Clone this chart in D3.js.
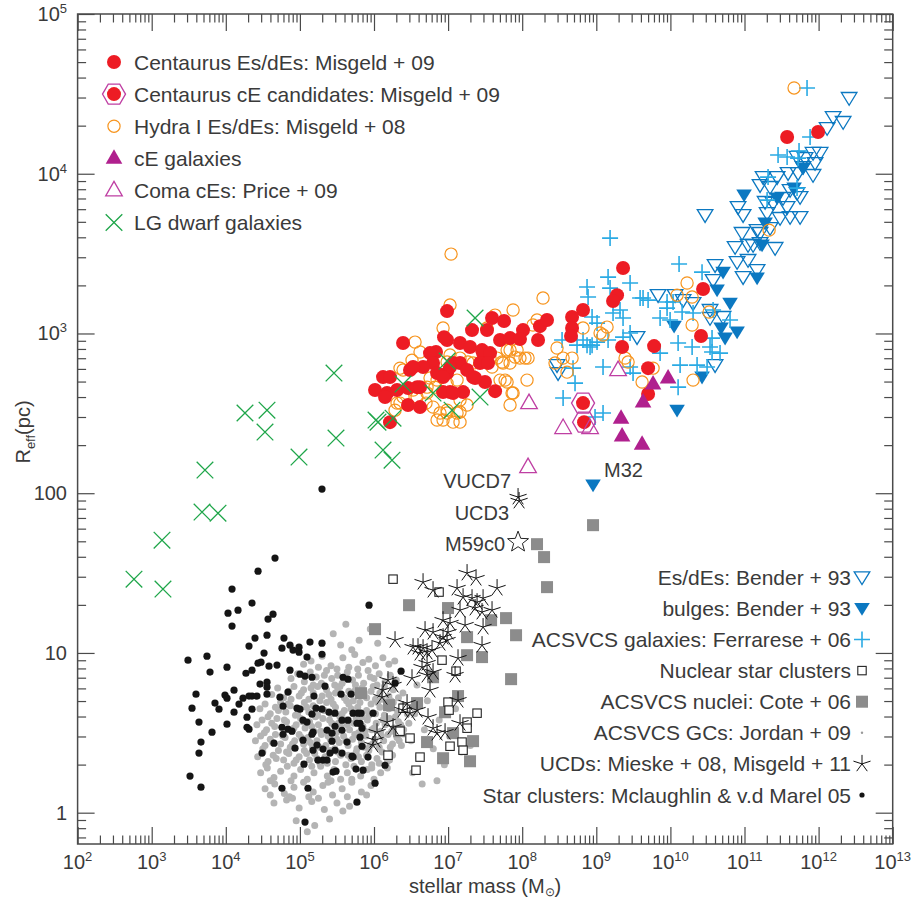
<!DOCTYPE html>
<html>
<head>
<meta charset="utf-8">
<script src="https://cdn.jsdelivr.net/npm/d3@7"></script>
<style>
  body { margin: 0; background: #fff; }
  text { font-family: "Liberation Sans", Arial, sans-serif; fill: #3a3a3a; }
</style>
</head>
<body>
<svg id="chart" width="911" height="902"></svg>
<script>
// all points are [log10 stellar mass (Msun), log10 Reff (pc)]
const centaurusEs = [
  [11.575,4.230],[11.993,4.261],[9.361,3.410],[9.280,3.240],[9.226,3.203],[8.821,3.147],[8.673,3.103],
  [8.673,3.034],[8.659,2.984],[9.348,2.915],[9.780,2.921],[10.441,3.278],[10.413,2.984],[9.699,2.783],
  [9.699,2.621],[6.986,3.140],[7.593,3.097],[7.755,3.078],[7.323,3.021],[7.525,3.021],[8.011,3.021],
  [8.240,3.046],[8.335,3.084],[8.214,2.959],[7.701,2.959],[7.836,2.971],[7.970,2.965],[6.986,2.959],
  [7.161,2.940],[7.296,2.915],[7.472,2.877],[7.431,2.815],[7.067,2.815],[7.161,2.815],[6.986,2.752],
  [7.256,2.771],[7.337,2.727],[7.498,2.696],[7.634,2.639],[7.026,2.633],[7.202,2.633],[6.392,2.940],
  [6.945,2.977],[6.837,2.884],[6.756,2.877],[7.458,2.896],[7.566,2.877],[7.539,2.815],[7.026,2.790],
  [6.797,2.815],[6.486,2.771],[6.662,2.790],[6.851,2.752],[6.932,2.727],[6.122,2.727],[6.216,2.727],
  [6.014,2.646],[6.176,2.627],[6.311,2.646],[6.459,2.658],[6.581,2.664],[6.932,2.633],[7.067,2.627],
  [7.364,2.721],[6.459,2.552],[6.621,2.539],[6.216,2.445],[6.527,2.790],[6.149,2.602],[6.621,2.664]
];
const centaurusCE = [[8.821,2.564],[8.835,2.445]];
const hydraEs = [
  [11.669,4.537],[7.040,3.497],[11.332,3.647],[8.281,3.222],[7.877,3.147],[7.026,3.178],[10.225,3.316],
  [10.090,3.240],[10.293,3.228],[10.522,3.134],[10.293,3.053],[10.306,2.708],[9.618,2.696],[9.766,2.783],
  [9.145,3.040],[9.051,3.003],[9.091,2.990],[8.821,3.034],[8.470,2.909],[8.443,2.815],[8.552,2.846],
  [8.605,2.758],[8.673,2.846],[9.388,2.846],[9.429,2.821],[8.065,2.708],[7.877,2.627],[7.836,2.552],
  [7.661,2.846],[7.742,2.815],[7.970,2.846],[8.079,2.846],[7.836,2.896],[7.161,2.508],[6.986,2.520],
  [7.701,2.708],[7.796,2.696],[7.337,2.815],[7.472,2.821],[7.634,3.115],[7.525,3.034],[6.932,3.034],
  [6.554,2.946],[6.621,2.884],[6.513,2.833],[6.351,2.783],[7.026,2.865],[6.986,2.821],[7.161,2.846],
  [7.269,2.821],[7.566,2.846],[7.796,2.896],[7.931,2.896],[7.904,2.852],[8.038,2.846],[7.728,2.821],
  [7.593,2.790],[7.836,2.815],[6.756,2.721],[6.851,2.708],[6.716,2.664],[6.986,2.689],[7.121,2.708],
  [7.769,2.708],[7.863,2.627],[7.161,2.583],[7.256,2.552],[6.311,2.564],[6.392,2.602],[6.797,2.539],
  [6.891,2.502],[6.986,2.502],[6.851,2.458],[6.932,2.458],[7.121,2.502],[7.161,2.445],[6.527,2.646],
  [6.581,2.602],[8.200,3.084],[8.146,3.053],[6.392,2.771],[6.824,2.664],[6.716,2.627],[6.351,2.564],
  [7.067,2.445],[6.702,2.564],[6.284,2.520]
];
const cEGalaxies = [[9.334,2.470],[9.348,2.358],[9.618,2.307],[9.631,2.571],[9.766,2.683],[9.969,2.721]];
const comaCEs = [[8.092,2.564],[8.552,2.408],[8.916,2.408],[9.294,2.771],[8.079,2.163]];
const lgDwarfs = [
  [2.761,1.462],[3.139,1.706],[3.152,1.400],[3.679,1.882],[3.895,1.875],[3.719,2.145],[4.259,2.502],
  [4.556,2.520],[4.529,2.383],[4.988,2.226],[5.460,2.752],[5.487,2.345],[6.027,2.458],[6.054,2.445],
  [6.122,2.270],[6.243,2.207],[6.257,2.470],[6.392,2.683],[6.797,2.627],[6.986,2.827],[7.053,2.520],
  [7.364,3.097],[7.431,2.602]
];
const benderEs = [
  [12.412,4.474],[12.196,4.355],[12.331,4.324],[12.115,4.286],[11.925,4.130],[12.020,4.130],[11.817,4.098],
  [11.709,4.105],[11.952,4.067],[11.790,4.042],[11.723,4.004],[11.925,3.992],[11.588,4.004],[11.440,3.979],
  [11.251,3.979],[11.210,3.929],[11.345,3.917],[11.615,3.898],[11.709,3.879],[11.750,3.854],[11.520,3.848],
  [11.386,3.817],[11.278,3.823],[11.575,3.791],[11.750,3.729],[11.615,3.729],[11.480,3.723],[11.305,3.754],
  [10.981,3.741],[10.913,3.791],[10.468,3.741],[11.345,3.660],[11.170,3.647],[10.967,3.629],[10.873,3.541],
  [11.048,3.554],[11.210,3.566],[11.413,3.535],[10.603,3.428],[10.900,3.447],[11.048,3.460],[11.210,3.629],
  [11.116,3.554],[10.981,3.353],[11.170,3.397],[10.576,3.334],[9.834,3.240],[10.063,3.240],[10.171,3.209],
  [10.306,3.190],[10.535,3.147],[10.711,3.103],[10.535,3.097],[10.603,2.802],[9.550,2.977],[8.470,2.802],
  [8.484,2.752]
];
const benderBulges = [
  [10.994,3.867],[11.440,3.848],[11.669,3.910],[11.790,4.036],[11.278,3.691],[11.237,3.554],[10.630,3.272],
  [10.805,3.190],[10.684,3.034],[10.900,3.009],[10.738,2.971],[11.170,3.347],[10.711,3.384],[10.050,3.046],
  [10.427,2.727],[10.090,2.520],[8.956,2.051]
];
const acsGalaxies = [
  [11.844,4.537],[11.885,4.230],[11.453,4.117],[11.575,4.105],[11.736,4.142],[11.723,4.098],[11.318,3.979],
  [11.305,3.835],[11.709,3.910],[9.186,3.597],[10.117,3.435],[10.427,3.384],[9.159,3.353],[9.456,3.316],
  [8.875,3.291],[8.889,3.228],[9.186,3.284],[9.591,3.222],[9.699,3.209],[9.955,3.197],[10.036,3.197],
  [8.943,3.103],[9.010,3.065],[9.226,3.128],[9.320,3.147],[9.361,3.097],[9.861,3.097],[9.996,3.084],
  [10.158,3.134],[10.306,3.128],[10.576,3.147],[10.805,3.084],[9.456,3.003],[9.361,2.977],[8.538,2.959],
  [8.740,2.927],[8.875,2.927],[8.943,2.927],[9.010,2.946],[9.159,2.959],[10.104,2.940],[10.293,2.915],
  [10.562,2.884],[9.861,2.877],[10.131,2.802],[10.360,2.802],[10.495,2.790],[9.091,2.790],[9.496,2.752],
  [9.456,2.790],[8.686,2.783],[8.713,2.689],[10.104,2.664],[8.552,2.596],[9.091,2.502],[8.983,2.477],
  [10.670,2.877],[10.535,2.915],[9.631,3.222],[9.955,3.159],[10.562,2.971],[8.916,2.915],[8.821,2.959]
];
const nuclearClusters = [
  [6.257,1.462],[6.878,1.381],[6.918,0.955],[7.107,0.886],[6.999,0.692],[7.013,0.642],[7.391,0.623],
  [6.392,0.654],[7.256,0.567],[7.256,0.529],[6.486,0.467],[7.026,0.416],[7.188,0.442],[7.202,0.391],
  [6.189,0.360],[6.621,0.348],[6.567,0.266],[6.351,0.510]
];
const acsNuclei = [
  [8.956,1.800],[8.200,1.681],[8.295,1.600],[8.335,1.412],[7.917,1.111],[7.782,1.218],[7.580,1.205],
  [7.458,0.974],[7.256,0.986],[7.256,1.099],[6.999,1.281],[7.850,0.836],[7.134,0.730],[7.337,0.448],
  [7.296,0.322],[6.932,0.341],[7.067,0.498],[6.473,1.299],[6.014,1.149],[5.825,0.748],[6.203,0.673],
  [6.959,0.629],[6.338,0.510],[6.716,0.442],[6.581,0.686],[6.797,0.848]
];
const ucds = [
  [7.256,1.500],[7.377,1.468],[6.662,1.443],[6.797,1.393],[7.121,1.406],[7.661,1.406],[7.202,1.349],
  [7.323,1.343],[7.391,1.318],[7.472,1.343],[7.161,1.268],[7.364,1.281],[7.458,1.256],[7.593,1.268],
  [7.229,1.174],[7.026,1.187],[7.472,1.162],[6.689,1.143],[6.797,1.130],[6.932,1.099],[6.999,1.130],
  [6.284,1.080],[6.594,1.036],[6.662,1.030],[6.716,1.005],[6.621,0.999],[6.783,1.018],[6.986,1.080],
  [6.891,1.061],[7.458,1.049],[7.134,0.967],[6.716,0.936],[6.648,0.911],[6.797,0.880],[6.716,0.861],
  [6.513,0.842],[7.094,0.861],[6.189,0.830],[6.257,0.799],[6.122,0.767],[6.108,0.723],[6.756,0.767],
  [7.134,0.704],[6.581,0.642],[6.486,0.623],[6.392,0.642],[6.729,0.598],[7.161,0.560],[6.176,0.567],
  [6.257,0.535],[6.797,0.529],[6.959,0.504],[6.851,0.498],[6.041,0.504],[6.014,0.454],[5.987,0.423],
  [6.527,1.036],[6.932,1.205],[6.446,0.686]
];
const namedUCDs = [["VUCD7",7.944,1.976],["UCD3",7.958,1.951]];
const m59c0 = [7.944,1.694];
const m32 = [8.956,2.051];
const starClusters = [
  [4.664,1.594],[4.435,1.512],[4.084,1.400],[4.354,1.312],[4.030,1.249],[4.165,1.268],[4.084,1.168],
  [4.570,1.212],[4.637,1.243],[4.394,1.093],[4.556,1.111],[4.313,1.043],[4.785,1.093],[4.758,1.030],
  [4.866,1.049],[4.907,1.018],[4.988,1.036],[4.988,1.005],[5.136,1.068],[5.298,1.061],[5.298,0.992],
  [5.096,0.974],[3.490,0.955],[3.746,0.980],[4.516,0.999],[3.787,0.880],[4.016,0.911],[4.272,0.873],
  [4.354,0.892],[4.435,0.936],[4.475,0.942],[4.583,0.917],[4.691,0.924],[4.866,0.892],[5.001,0.867],
  [5.069,0.855],[5.163,0.848],[4.462,0.805],[4.556,0.817],[4.556,0.786],[4.556,0.742],[4.111,0.767],
  [3.989,0.736],[4.016,0.717],[4.232,0.717],[4.313,0.730],[4.354,0.730],[4.421,0.730],[3.598,0.742],
  [3.544,0.654],[3.854,0.686],[3.908,0.648],[4.178,0.680],[4.111,0.629],[4.354,0.648],[4.286,0.598],
  [4.286,0.535],[4.313,0.523],[4.016,0.554],[3.814,0.504],[3.638,0.567],[3.665,0.442],[3.638,0.373],
  [3.517,0.229],[3.665,0.160],[4.839,0.755],[4.731,0.723],[4.772,0.667],[5.339,0.792],[5.190,0.730],
  [5.163,0.617],[4.961,0.654],[5.001,0.648],[5.042,0.579],[5.096,0.567],[5.217,0.654],[5.298,0.648],
  [5.393,0.629],[5.474,0.623],[4.758,0.535],[4.772,0.491],[4.839,0.523],[4.893,0.510],[5.177,0.504],
  [5.163,0.491],[5.366,0.516],[5.433,0.498],[5.568,0.516],[5.474,0.541],[5.568,0.579],[5.649,0.579],
  [5.717,0.623],[5.825,0.623],[5.582,0.848],[5.649,0.836],[5.555,0.742],[5.690,0.742],[5.811,0.560],
  [5.838,0.529],[4.650,0.435],[4.934,0.404],[5.042,0.454],[5.231,0.423],[5.177,0.391],[5.312,0.398],
  [5.433,0.448],[5.474,0.391],[5.406,0.373],[5.312,0.329],[5.244,0.329],[5.366,0.329],[5.636,0.442],
  [5.703,0.354],[5.568,0.373],[5.838,0.416],[5.919,0.348],[5.852,0.266],[5.055,0.304],[4.489,0.373],
  [5.447,0.254],[5.487,0.260],[5.757,0.273],[4.758,0.153],[5.109,0.153],[5.770,0.066],[5.069,-0.059],
  [6.014,0.185],[5.933,1.299],[5.987,0.623],[5.298,2.026],[6.365,0.886],[6.284,0.811],[5.784,0.623],
  [5.770,0.560],[5.811,0.473],[5.717,0.348],[6.149,0.297]
];
const gcText = `
5.45,1.12 5.62,1.18 5.80,1.08 5.95,1.15 6.05,1.06 5.70,1.02 5.55,1.05
5.15,0.95 5.30,0.98 5.42,0.92 5.58,0.97 5.66,0.91 5.74,0.99 5.85,0.94 5.93,0.96 6.02,0.92 6.12,0.97 6.20,0.93 5.25,0.91 5.50,0.90 5.78,0.90 6.28,0.95 5.05,0.93
4.88,0.84 4.97,0.87 5.06,0.82 5.14,0.88 5.22,0.85 5.29,0.81 5.36,0.89 5.43,0.84 5.51,0.86 5.57,0.81 5.64,0.88 5.71,0.83 5.79,0.86 5.86,0.81 5.92,0.89 6.00,0.84 6.07,0.87 6.15,0.82 6.22,0.86 6.30,0.83 5.18,0.80 5.47,0.80 5.75,0.80 6.04,0.80 5.33,0.86 5.60,0.85 5.95,0.85
4.62,0.74 4.70,0.78 4.78,0.72 4.85,0.76 4.92,0.79 4.99,0.73 5.05,0.77 5.12,0.71 5.18,0.75 5.24,0.79 5.30,0.73 5.36,0.77 5.42,0.71 5.48,0.75 5.54,0.79 5.60,0.72 5.66,0.76 5.72,0.70 5.78,0.74 5.84,0.78 5.90,0.72 5.96,0.76 6.02,0.71 6.08,0.75 6.14,0.79 6.20,0.73 6.26,0.77 6.33,0.72 6.39,0.75 4.88,0.71 5.02,0.75 5.15,0.78 5.27,0.70 5.39,0.74 5.51,0.78 5.63,0.70 5.75,0.77 5.87,0.75 5.99,0.79 6.11,0.71 6.23,0.70
4.46,0.65 4.53,0.68 4.60,0.62 4.67,0.66 4.74,0.69 4.81,0.63 4.87,0.67 4.94,0.61 5.00,0.65 5.06,0.69 5.12,0.63 5.18,0.67 5.24,0.61 5.30,0.65 5.36,0.69 5.42,0.62 5.48,0.66 5.54,0.60 5.60,0.64 5.66,0.68 5.72,0.62 5.78,0.66 5.84,0.60 5.90,0.64 5.96,0.68 6.02,0.62 6.08,0.66 6.14,0.61 6.20,0.65 6.26,0.69 6.32,0.63 6.38,0.67 6.45,0.62 4.57,0.60 4.71,0.64 4.84,0.68 4.97,0.62 5.09,0.66 5.21,0.60 5.33,0.64 5.45,0.68 5.57,0.62 5.69,0.65 5.81,0.69 5.93,0.61 6.05,0.69 6.17,0.67 6.29,0.60
4.42,0.55 4.49,0.58 4.55,0.52 4.62,0.56 4.69,0.59 4.76,0.53 4.82,0.57 4.89,0.51 4.95,0.55 5.01,0.59 5.07,0.53 5.13,0.57 5.19,0.51 5.25,0.55 5.31,0.59 5.37,0.52 5.43,0.56 5.49,0.50 5.55,0.54 5.61,0.58 5.67,0.52 5.73,0.56 5.79,0.50 5.85,0.54 5.91,0.58 5.97,0.52 6.03,0.56 6.09,0.51 6.15,0.55 6.21,0.59 6.27,0.53 6.33,0.57 6.40,0.52 6.47,0.56 4.52,0.50 4.66,0.54 4.79,0.58 4.92,0.53 5.04,0.57 5.16,0.54 5.28,0.51 5.40,0.58 5.52,0.56 5.64,0.55 5.76,0.59 5.88,0.51 6.00,0.53 6.12,0.58 6.24,0.51 6.36,0.55
4.40,0.45 4.47,0.48 4.53,0.42 4.60,0.46 4.67,0.49 4.74,0.43 4.80,0.47 4.87,0.41 4.93,0.45 4.99,0.49 5.05,0.43 5.11,0.47 5.17,0.41 5.23,0.45 5.29,0.49 5.35,0.42 5.41,0.46 5.47,0.40 5.53,0.44 5.59,0.48 5.65,0.42 5.71,0.46 5.77,0.40 5.83,0.44 5.89,0.48 5.95,0.42 6.01,0.46 6.07,0.41 6.13,0.45 6.19,0.49 6.25,0.43 6.31,0.47 6.37,0.42 4.50,0.40 4.63,0.44 4.77,0.48 4.90,0.43 5.02,0.47 5.14,0.44 5.26,0.41 5.38,0.48 5.50,0.46 5.62,0.45 5.74,0.49 5.86,0.41 5.98,0.43 6.10,0.48 6.22,0.41 6.34,0.45
4.43,0.35 4.50,0.38 4.57,0.32 4.64,0.36 4.71,0.39 4.78,0.33 4.85,0.37 4.92,0.31 4.99,0.35 5.06,0.39 5.13,0.33 5.20,0.37 5.27,0.31 5.34,0.35 5.41,0.39 5.48,0.32 5.55,0.36 5.62,0.30 5.69,0.34 5.76,0.38 5.83,0.32 5.90,0.36 5.97,0.30 6.04,0.34 6.11,0.38 6.18,0.32 6.25,0.36 4.54,0.30 4.68,0.34 4.82,0.38 4.95,0.33 5.09,0.37 5.23,0.34 5.37,0.31 5.51,0.38 5.65,0.36 5.79,0.35 5.93,0.39 6.07,0.31 6.21,0.33
4.47,0.25 4.56,0.28 4.65,0.22 4.74,0.26 4.83,0.29 4.92,0.23 5.01,0.27 5.10,0.21 5.19,0.25 5.28,0.29 5.37,0.23 5.46,0.27 5.55,0.21 5.64,0.25 5.73,0.29 5.82,0.23 5.91,0.27 6.00,0.21 6.09,0.25 6.18,0.28 4.60,0.20 4.88,0.20 5.16,0.29 5.42,0.20 5.70,0.21 5.97,0.28
4.53,0.15 4.66,0.18 4.79,0.12 4.92,0.16 5.05,0.19 5.18,0.13 5.31,0.17 5.44,0.11 5.57,0.15 5.70,0.19 5.83,0.13 5.96,0.17 4.60,0.11 4.86,0.10 5.12,0.10 5.38,0.19 5.64,0.10 5.90,0.11
4.65,0.06 4.82,0.08 4.99,0.03 5.16,0.07 5.33,0.02 5.50,0.06 5.67,0.04 4.90,0.09 5.25,0.09 5.58,0.01
4.95,-0.05 5.20,-0.08 5.40,-0.04 5.10,-0.12
6.50,0.45 6.55,0.62 6.60,0.35 6.68,0.52 6.72,0.70 6.80,0.40 6.88,0.58 6.95,0.30 7.02,0.48 7.10,0.65 7.18,0.38 7.25,0.55 6.58,0.80 6.75,0.88 6.52,0.25 6.65,0.18 7.30,0.42 6.85,0.20`;
const acsGCs = gcText.trim().split(/\s+/).map(s => s.split(",").map(Number));

const xTickExps = [2,3,4,5,6,7,8,9,10,11,12,13];
const yTickValues = [1,10,100,1000,10000,100000];
const yTickLabels = [["1",""],["10",""],["100",""],["10","3"],["10","4"],["10","5"]];

const leftLegend = [
  ["red","Centaurus Es/dEs: Misgeld + 09"],
  ["hex","Centaurus cE candidates: Misgeld + 09"],
  ["orange","Hydra I Es/dEs: Misgeld + 08"],
  ["cE","cE galaxies"],
  ["coma","Coma cEs: Price + 09"],
  ["lg","LG dwarf galaxies"]
];
const rightLegend = [
  ["bender","Es/dEs: Bender + 93"],
  ["bulge","bulges: Bender + 93"],
  ["acs","ACSVCS galaxies: Ferrarese + 06"],
  ["nsc","Nuclear star clusters"],
  ["nuc","ACSVCS nuclei: Cote + 06"],
  ["gcLeg","ACSVCS GCs: Jordan + 09"],
  ["ucd","UCDs: Mieske + 08, Misgeld + 11"],
  ["scLeg","Star clusters: Mclaughlin & v.d Marel 05"]
];

const RED = "#ed1c24", MAG = "#b0208e", MAG_L = "#bf3fa3", ORANGE = "#f7941d",
      GREEN = "#1fa64a", BLUE = "#0b78c1", LBLUE = "#2aaae4", GREY = "#8c8c8c";

const plot = {left: 77.6, right: 892.7, top: 14, bottom: 844};
const svg = d3.select("#chart");

const x = d3.scaleLog().domain([1e2, 1e13]).range([plot.left, plot.right]);
const y = d3.scaleLog().domain([Math.pow(10, -0.196), 1e5]).range([plot.bottom, plot.top]);
const px = d => x(Math.pow(10, d[0]));
const py = d => y(Math.pow(10, d[1]));

// marker shapes
const upTri = "M0,-9L8.3,5.5L-8.3,5.5Z";
const downTri = "M-7.8,-5.5L7.8,-5.5L0,7.3Z";
const hexPath = d3.range(6).map(i => {
  const a = i * Math.PI / 3;
  return (i ? "L" : "M") + (11.5 * Math.cos(a)).toFixed(2) + "," + (11.5 * Math.sin(a)).toFixed(2);
}).join("") + "Z";
const asterisk = d3.range(5).map(i => {
  const a = -Math.PI / 2 + i * 2 * Math.PI / 5;
  return "M0,0L" + (9 * Math.cos(a)).toFixed(2) + "," + (9 * Math.sin(a)).toFixed(2);
}).join("");
const starPath = d3.range(10).map(i => {
  const a = -Math.PI / 2 + i * Math.PI / 5, r = i % 2 ? 4.6 : 11;
  return (i ? "L" : "M") + (r * Math.cos(a)).toFixed(2) + "," + (r * Math.sin(a)).toFixed(2);
}).join("") + "Z";

function addMarker(s, type) {
  switch (type) {
    case "red":
      s.append("circle").attr("r", 7).attr("fill", RED); break;
    case "hex":
      s.append("path").attr("d", hexPath).attr("fill", "none").attr("stroke", MAG_L).attr("stroke-width", 1.3);
      s.append("circle").attr("r", 7).attr("fill", RED); break;
    case "orange":
      s.append("circle").attr("r", 6.1).attr("fill", "none").attr("stroke", ORANGE).attr("stroke-width", 1.2); break;
    case "cE":
      s.append("path").attr("d", upTri).attr("fill", MAG); break;
    case "coma":
      s.append("path").attr("d", upTri).attr("fill", "none").attr("stroke", MAG_L).attr("stroke-width", 1.3); break;
    case "lg":
      s.append("path").attr("d", "M-8.3,-8.3L8.3,8.3M-8.3,8.3L8.3,-8.3").attr("stroke", GREEN).attr("stroke-width", 1.3); break;
    case "bender":
      s.append("path").attr("d", downTri).attr("fill", "none").attr("stroke", BLUE).attr("stroke-width", 1.3); break;
    case "bulge":
      s.append("path").attr("d", downTri).attr("fill", BLUE); break;
    case "acs":
      s.append("path").attr("d", "M-8,0H8M0,-8V8").attr("stroke", LBLUE).attr("stroke-width", 1.6); break;
    case "nsc":
      s.append("rect").attr("x", -4.2).attr("y", -4.2).attr("width", 8.4).attr("height", 8.4)
        .attr("fill", "#fff").attr("stroke", "#222").attr("stroke-width", 1.1); break;
    case "nuc":
      s.append("rect").attr("x", -6).attr("y", -6).attr("width", 12).attr("height", 12).attr("fill", GREY); break;
    case "gcLeg":
      s.append("circle").attr("r", 1.2).attr("fill", "#9a9a9a"); break;
    case "ucd":
      s.append("path").attr("d", asterisk).attr("stroke", "#111").attr("stroke-width", 1).attr("fill", "none"); break;
    case "sc":
      s.append("circle").attr("r", 3.6).attr("fill", "#151515"); break;
    case "scLeg":
      s.append("circle").attr("r", 2.6).attr("fill", "#151515"); break;
    case "star":
      s.append("path").attr("d", starPath).attr("fill", "#fff").attr("stroke", "#222").attr("stroke-width", 1); break;
  }
}

const marks = svg.append("g");
function drawSeries(data, type) {
  marks.append("g").selectAll("g").data(data).join("g")
    .attr("transform", d => `translate(${px(d)},${py(d)})`)
    .each(function() { addMarker(d3.select(this), type); });
}

// GC cloud: each catalogue point drawn as a soft speck
marks.append("g").selectAll("circle").data(acsGCs).join("circle")
  .attr("cx", px).attr("cy", py).attr("r", 3.5).attr("fill", "#b4b4b4");

drawSeries(starClusters, "sc");
drawSeries(acsNuclei, "nuc");
drawSeries(nuclearClusters, "nsc");
drawSeries(ucds, "ucd");
drawSeries(namedUCDs.map(d => [d[1], d[2]]), "ucd");
drawSeries([m59c0], "star");
drawSeries(benderEs, "bender");
drawSeries(benderBulges, "bulge");
drawSeries(acsGalaxies, "acs");
drawSeries(hydraEs, "orange");
drawSeries(centaurusEs, "red");
drawSeries(centaurusCE, "hex");
drawSeries(cEGalaxies, "cE");
drawSeries(comaCEs, "coma");
drawSeries(lgDwarfs, "lg");

// annotations
const ann = svg.append("g").style("font-size", "20px");
ann.append("text").attr("text-anchor", "end")
  .attr("x", px(namedUCDs[0].slice(1)) - 7).attr("y", py(namedUCDs[0].slice(1)) - 9).text("VUCD7");
ann.append("text").attr("text-anchor", "end")
  .attr("x", px(namedUCDs[1].slice(1)) - 10).attr("y", py(namedUCDs[1].slice(1)) + 19).text("UCD3");
ann.append("text").attr("text-anchor", "end")
  .attr("x", px(m59c0) - 13).attr("y", py(m59c0) + 9).text("M59c0");
ann.append("text").attr("text-anchor", "start")
  .attr("x", px(m32) + 11).attr("y", py(m32) - 8).text("M32");

// axes: ticks pointing inward on all four sides
const xMajor = xTickExps.map(e => Math.pow(10, e));
const xMinor = [];
for (let e = 2; e < 13; e++) for (let m = 2; m <= 9; m++) xMinor.push(m * Math.pow(10, e));
const yMinor = [0.7, 0.8, 0.9];
for (let e = 0; e < 5; e++) for (let m = 2; m <= 9; m++) yMinor.push(m * Math.pow(10, e));

function styleAxis(g) {
  g.select(".domain").remove();
  g.selectAll("line").attr("stroke", "#4a4a4a").attr("stroke-width", 1.2);
}
const axes = svg.append("g");
axes.append("g").attr("transform", `translate(0,${plot.bottom})`)
  .call(d3.axisBottom(x).tickValues(xMajor).tickSize(-17).tickFormat("")).call(styleAxis);
axes.append("g").attr("transform", `translate(0,${plot.bottom})`)
  .call(d3.axisBottom(x).tickValues(xMinor).tickSize(-8.5).tickFormat("")).call(styleAxis);
axes.append("g").attr("transform", `translate(0,${plot.top})`)
  .call(d3.axisTop(x).tickValues(xMajor).tickSize(-17).tickFormat("")).call(styleAxis);
axes.append("g").attr("transform", `translate(0,${plot.top})`)
  .call(d3.axisTop(x).tickValues(xMinor).tickSize(-8.5).tickFormat("")).call(styleAxis);
axes.append("g").attr("transform", `translate(${plot.left},0)`)
  .call(d3.axisLeft(y).tickValues(yTickValues).tickSize(-17).tickFormat("")).call(styleAxis);
axes.append("g").attr("transform", `translate(${plot.left},0)`)
  .call(d3.axisLeft(y).tickValues(yMinor).tickSize(-8.5).tickFormat("")).call(styleAxis);
axes.append("g").attr("transform", `translate(${plot.right},0)`)
  .call(d3.axisRight(y).tickValues(yTickValues).tickSize(-17).tickFormat("")).call(styleAxis);
axes.append("g").attr("transform", `translate(${plot.right},0)`)
  .call(d3.axisRight(y).tickValues(yMinor).tickSize(-8.5).tickFormat("")).call(styleAxis);

svg.append("rect").attr("x", plot.left).attr("y", plot.top)
  .attr("width", plot.right - plot.left).attr("height", plot.bottom - plot.top)
  .attr("fill", "none").attr("stroke", "#4a4a4a").attr("stroke-width", 1.5);

// tick labels
const xl = svg.append("g").style("font-size", "20px");
xl.selectAll("text").data(xTickExps).join("text")
  .attr("x", e => x(Math.pow(10, e))).attr("y", 869).attr("text-anchor", "middle")
  .each(function(e) {
    const t = d3.select(this);
    t.append("tspan").text("10");
    t.append("tspan").attr("dy", -8).style("font-size", "13px").text(e);
  });
const yl = svg.append("g").style("font-size", "20px");
yl.selectAll("text").data(yTickValues).join("text")
  .attr("x", 67).attr("y", v => y(v) + 7).attr("text-anchor", "end")
  .each(function(v, i) {
    const t = d3.select(this);
    t.append("tspan").text(yTickLabels[i][0]);
    if (yTickLabels[i][1]) t.append("tspan").attr("dy", -8).style("font-size", "13px").text(yTickLabels[i][1]);
  });

// axis titles
const xt = svg.append("text").attr("x", (plot.left + plot.right) / 2).attr("y", 893)
  .attr("text-anchor", "middle").style("font-size", "20px");
xt.append("tspan").text("stellar mass (M");
xt.append("tspan").attr("dy", 3).style("font-size", "12px").text("\u2299");
xt.append("tspan").attr("dy", -3).text(")");

const yt = svg.append("text").attr("transform", "translate(30,432) rotate(-90)")
  .attr("text-anchor", "middle").style("font-size", "20px");
yt.append("tspan").text("R");
yt.append("tspan").attr("dy", 5).style("font-size", "13px").text("eff");
yt.append("tspan").attr("dy", -5).text("(pc)");

// legends
const lg1 = svg.append("g");
leftLegend.forEach((d, i) => {
  const yy = 62 + i * 32.1;
  const m = lg1.append("g").attr("transform", `translate(114,${yy})`);
  addMarker(m, d[0]);
  lg1.append("text").attr("x", 134).attr("y", yy + 7.5).style("font-size", "21px").text(d[1]);
});
const lg2 = svg.append("g");
rightLegend.forEach((d, i) => {
  const yy = 577.3 + i * 31.1;
  const m = lg2.append("g").attr("transform", `translate(862,${yy})`);
  addMarker(m, d[0]);
  lg2.append("text").attr("x", 851).attr("y", yy + 7.5).attr("text-anchor", "end")
    .style("font-size", "21px").text(d[1]);
});
</script>
</body>
</html>
